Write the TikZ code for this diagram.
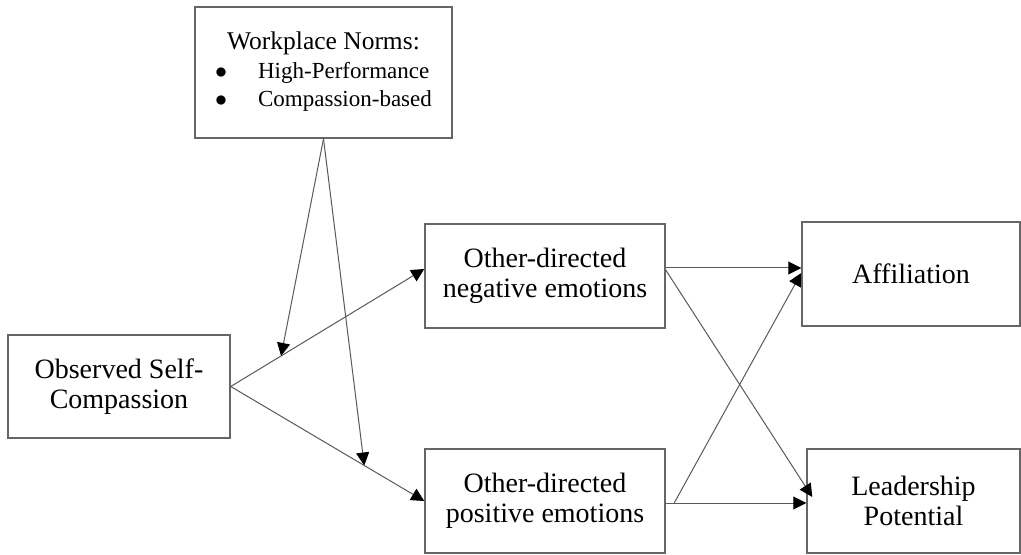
\documentclass[tikz,border=0pt]{standalone}
\usepackage{fontspec}
\setmainfont{Liberation Serif}
\usetikzlibrary{arrows.meta}

\tikzset{
  box/.style={draw=black!60, line width=0.75pt, minimum height=52pt, inner sep=0pt, align=center, font=\fontsize{14}{15}\selectfont},
  link/.style={draw=black!65, line width=0.5pt, -{Triangle[length=6.5pt,width=6.5pt,color=black]}}
}
\newcommand{\normitem}{\fontsize{11.5}{14.25}\selectfont}

\begin{document}
\begin{tikzpicture}[x=0.5pt, y=-0.5pt]
  \useasboundingbox (0,0) rectangle (1021,555);
  \node[box, minimum width=128.5pt, minimum height=65.5pt, font=\fontsize{12.75}{14.25}\selectfont] (norms) at (323.5,72.5)
    {\begin{tabular}{@{}c@{\hspace{15.5pt}}l@{}}\multicolumn{2}{c}{Workplace Norms:}\\ $\bullet$ & \normitem High-Performance\\ $\bullet$ & \normitem Compassion-based\end{tabular}};
  \node[box, minimum width=111pt, minimum height=51.5pt] (obs) at (119,386.5) {Observed Self-\\Compassion};
  \node[box, minimum width=120pt] (neg) at (545,276) {Other-directed\\negative emotions};
  \node[box, minimum width=120pt] (pos) at (545,501) {Other-directed\\positive emotions};
  \node[box, minimum width=109pt] (aff) at (911,274) {Affiliation};
  \node[box, minimum width=106.5pt] (lead) at (913.5,501) {Leadership\\Potential};

  \draw[link] (obs.east) -- coordinate[pos=0.26] (modneg) ([yshift=3.5pt]neg.west);
  \draw[link] (obs.east) -- coordinate[pos=0.69] (modpos) (pos.west);
  \draw[link] (norms.south) -- (modneg);
  \draw[link] (norms.south) -- (modpos);

  \draw[link] ([yshift=4pt]neg.east) -- ([yshift=3pt]aff.west);
  \draw[link] ([yshift=3pt]neg.east) -- ([shift={(3pt,2pt)}]lead.west);
  \draw[link] ([yshift=-1pt]pos.east) -- coordinate[pos=0.06] (posout) ([yshift=-1pt]lead.west);
  \draw[link] (posout) -- ([yshift=0.5pt]aff.west);
\end{tikzpicture}
\end{document}
